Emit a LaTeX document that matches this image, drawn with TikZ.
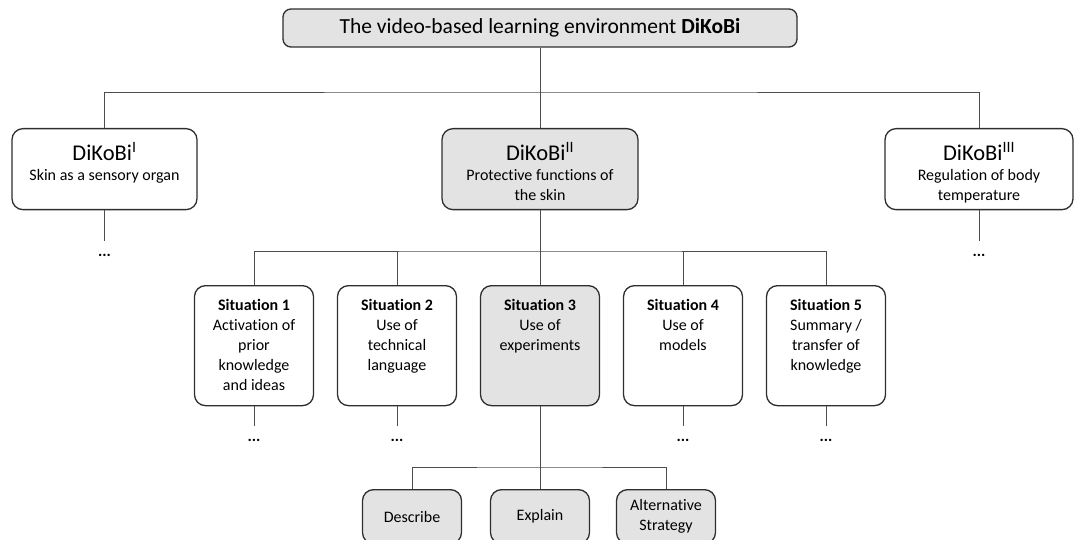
\documentclass[tikz,border=0pt]{standalone}
\usepackage{fontspec}
\setmainfont{Carlito}[Ligatures=CommonOff]
\usepackage{tikz}
\usetikzlibrary{positioning}
\definecolor{DiKoGray}{HTML}{E3E3E3}
\definecolor{DiKoLine}{HTML}{2E2E2E}
\newcommand{\toptext}[3]{\parbox[c][#2][t]{#1}{\centering\vspace*{14pt}#3\par}}
\newcommand{\headfont}{\fontsize{22.5}{24}\selectfont}

\begin{document}
\begin{tikzpicture}[
  x=1pt, y=-1pt,
  every node/.append style={font=\fontsize{16}{20}\selectfont},
  box/.style={draw=DiKoLine, line width=1.3pt, rounded corners=11pt, fill=white, inner sep=0pt, anchor=north},
  grey/.style={fill=DiKoGray},
  leaf/.style={box, grey, minimum width=99pt, minimum height=54pt, align=center},
  link/.style={draw=DiKoLine!85, line width=0.9pt},
  stub/.style={link, shorten >=12pt},
  dots/.style={font=\fontsize{16}{20}\selectfont\bfseries, inner sep=1pt}
]
\useasboundingbox (0,0) rectangle (1074,540);
\clip (0,0) rectangle (1074,540);

% top level
\node[box, grey, rounded corners=8pt, minimum width=514pt, minimum height=38pt, anchor=center,
      font=\fontsize{21.5}{24}\selectfont] (env) at (540,28)
  {The video-based learning environment \textbf{DiKoBi}};

% DiKoBi modules
\node[box] (dk1) at (104.5,128) {\toptext{185pt}{81pt}{{\headfont DiKoBi\textsuperscript{I}}\\Skin as a sensory organ}};
\node[box, grey] (dk2) at (540,128) {\toptext{196pt}{81pt}{{\headfont DiKoBi\textsuperscript{II}}\\Protective functions of\\the skin}};
\node[box] (dk3) at (979,128) {\toptext{188pt}{81pt}{{\headfont DiKoBi\textsuperscript{III}}\\Regulation of body\\temperature}};
\node[dots, below=43pt of dk1] (d1) {...};
\node[dots, below=43pt of dk3] (d3) {...};

% situations
\node[box] (s1) at (254,285) {\toptext{119pt}{120pt}{\textbf{Situation 1}\\Activation of\\prior\\knowledge\\and ideas}};
\node[box] (s2) at (397,285) {\toptext{119pt}{120pt}{\textbf{Situation 2}\\Use of\\technical\\language}};
\node[box, grey] (s3) at (540,285) {\toptext{119pt}{120pt}{\textbf{Situation 3}\\Use of\\experiments}};
\node[box] (s4) at (683,285) {\toptext{119pt}{120pt}{\textbf{Situation 4}\\Use of\\models}};
\node[box] (s5) at (826,285) {\toptext{119pt}{120pt}{\textbf{Situation 5}\\Summary /\\transfer of\\knowledge}};
\node[dots, below=32pt of s1] (ds1) {...};
\node[dots, below=32pt of s2] (ds2) {...};
\node[dots, below=32pt of s4] (ds4) {...};
\node[dots, below=32pt of s5] (ds5) {...};

% tasks of situation 3
\node[leaf] (desc) at (412,489) {Describe};
\node[leaf] (expl) at (540,489) {Explain};
\node[leaf] (alt) at (666,489) {Alternative\\Strategy};

\coordinate (bar1) at (540,92);
\coordinate (bar2) at (540,251);
\coordinate (bar3) at (540,467);

\draw[link] (env) -- (bar1);
\draw[link] (dk1.north) |- (bar1) -| (dk3.north);
\draw[link] (bar1) -- (dk2);
\draw[stub] (dk1) -- (d1);
\draw[stub] (dk3) -- (d3);

\draw[link] (dk2) -- (bar2);
\draw[link] (s1.north) |- (bar2) -| (s5.north);
\draw[link] (s2.north) -- (s2.north |- bar2);
\draw[link] (s4.north) -- (s4.north |- bar2);
\draw[link] (bar2) -- (s3);
\draw[stub] (s1) -- (ds1);
\draw[stub] (s2) -- (ds2);
\draw[stub] (s4) -- (ds4);
\draw[stub] (s5) -- (ds5);

\draw[link] (s3) -- (bar3);
\draw[link] (desc.north) |- (bar3) -| (alt.north);
\draw[link] (bar3) -- (expl);
\end{tikzpicture}
\end{document}
